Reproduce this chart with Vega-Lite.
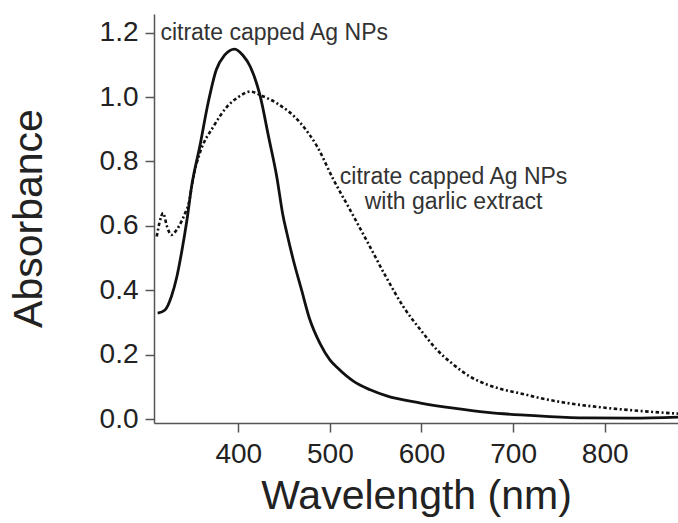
{
  "$schema": "https://vega.github.io/schema/vega-lite/v6.json",
  "autosize": {"type": "none"},
  "width": 524,
  "height": 409,
  "padding": {"left": 154, "top": 14, "right": 0, "bottom": 100},
  "background": "white",
  "config": {"view": {"stroke": null}, "font": "Liberation Sans"},
  "datasets": {
    "spectra": [
      {"series": "citrate", "wavelength": 312, "absorbance": 0.329},
      {"series": "citrate", "wavelength": 320, "absorbance": 0.339},
      {"series": "citrate", "wavelength": 327, "absorbance": 0.381},
      {"series": "citrate", "wavelength": 333, "absorbance": 0.443},
      {"series": "citrate", "wavelength": 338, "absorbance": 0.516},
      {"series": "citrate", "wavelength": 344, "absorbance": 0.619},
      {"series": "citrate", "wavelength": 349, "absorbance": 0.722},
      {"series": "citrate", "wavelength": 358, "absorbance": 0.847},
      {"series": "citrate", "wavelength": 367, "absorbance": 0.981},
      {"series": "citrate", "wavelength": 376, "absorbance": 1.085},
      {"series": "citrate", "wavelength": 385, "absorbance": 1.13},
      {"series": "citrate", "wavelength": 396, "absorbance": 1.149},
      {"series": "citrate", "wavelength": 405, "absorbance": 1.13},
      {"series": "citrate", "wavelength": 413, "absorbance": 1.095},
      {"series": "citrate", "wavelength": 424, "absorbance": 1.002},
      {"series": "citrate", "wavelength": 433, "absorbance": 0.878},
      {"series": "citrate", "wavelength": 442, "absorbance": 0.753},
      {"series": "citrate", "wavelength": 449, "absorbance": 0.629},
      {"series": "citrate", "wavelength": 453, "absorbance": 0.578},
      {"series": "citrate", "wavelength": 460, "absorbance": 0.495},
      {"series": "citrate", "wavelength": 469, "absorbance": 0.402},
      {"series": "citrate", "wavelength": 478, "absorbance": 0.31},
      {"series": "citrate", "wavelength": 489, "absorbance": 0.236},
      {"series": "citrate", "wavelength": 500, "absorbance": 0.184},
      {"series": "citrate", "wavelength": 508, "absorbance": 0.16},
      {"series": "citrate", "wavelength": 526, "absorbance": 0.117},
      {"series": "citrate", "wavelength": 544, "absorbance": 0.091},
      {"series": "citrate", "wavelength": 562, "absorbance": 0.072},
      {"series": "citrate", "wavelength": 599, "absorbance": 0.05},
      {"series": "citrate", "wavelength": 635, "absorbance": 0.034},
      {"series": "citrate", "wavelength": 672, "absorbance": 0.021},
      {"series": "citrate", "wavelength": 708, "absorbance": 0.013},
      {"series": "citrate", "wavelength": 740, "absorbance": 0.008},
      {"series": "citrate", "wavelength": 780, "absorbance": 0.004},
      {"series": "citrate", "wavelength": 830, "absorbance": 0.003},
      {"series": "citrate", "wavelength": 880, "absorbance": 0.006},
      {"series": "garlic", "wavelength": 311, "absorbance": 0.567},
      {"series": "garlic", "wavelength": 314, "absorbance": 0.61},
      {"series": "garlic", "wavelength": 318, "absorbance": 0.64},
      {"series": "garlic", "wavelength": 322, "absorbance": 0.6},
      {"series": "garlic", "wavelength": 327, "absorbance": 0.572},
      {"series": "garlic", "wavelength": 332, "absorbance": 0.585},
      {"series": "garlic", "wavelength": 336, "absorbance": 0.603},
      {"series": "garlic", "wavelength": 342, "absorbance": 0.64},
      {"series": "garlic", "wavelength": 346, "absorbance": 0.671},
      {"series": "garlic", "wavelength": 351, "absorbance": 0.753},
      {"series": "garlic", "wavelength": 358, "absorbance": 0.826},
      {"series": "garlic", "wavelength": 373, "absorbance": 0.909},
      {"series": "garlic", "wavelength": 388, "absorbance": 0.971},
      {"series": "garlic", "wavelength": 400, "absorbance": 1.0},
      {"series": "garlic", "wavelength": 413, "absorbance": 1.017},
      {"series": "garlic", "wavelength": 425, "absorbance": 1.005},
      {"series": "garlic", "wavelength": 442, "absorbance": 0.981},
      {"series": "garlic", "wavelength": 468, "absorbance": 0.919},
      {"series": "garlic", "wavelength": 486, "absorbance": 0.847},
      {"series": "garlic", "wavelength": 504, "absorbance": 0.743},
      {"series": "garlic", "wavelength": 522, "absorbance": 0.65},
      {"series": "garlic", "wavelength": 541, "absorbance": 0.55},
      {"series": "garlic", "wavelength": 561, "absorbance": 0.443},
      {"series": "garlic", "wavelength": 580, "absorbance": 0.35},
      {"series": "garlic", "wavelength": 599, "absorbance": 0.277},
      {"series": "garlic", "wavelength": 617, "absorbance": 0.215},
      {"series": "garlic", "wavelength": 635, "absorbance": 0.169},
      {"series": "garlic", "wavelength": 653, "absorbance": 0.132},
      {"series": "garlic", "wavelength": 672, "absorbance": 0.107},
      {"series": "garlic", "wavelength": 690, "absorbance": 0.091},
      {"series": "garlic", "wavelength": 708, "absorbance": 0.08},
      {"series": "garlic", "wavelength": 730, "absorbance": 0.065},
      {"series": "garlic", "wavelength": 759, "absorbance": 0.05},
      {"series": "garlic", "wavelength": 795, "absorbance": 0.037},
      {"series": "garlic", "wavelength": 832, "absorbance": 0.027},
      {"series": "garlic", "wavelength": 880, "absorbance": 0.017}
    ],
    "labels": [
      {"wavelength": 315, "absorbance": 1.2, "text": "citrate capped Ag NPs", "align": "left"},
      {"wavelength": 635, "absorbance": 0.752, "text": "citrate capped Ag NPs", "align": "center"},
      {"wavelength": 635, "absorbance": 0.675, "text": "with garlic extract", "align": "center"}
    ]
  },
  "encoding": {
    "x": {
      "field": "wavelength", "type": "quantitative",
      "scale": {"domain": [308, 880], "nice": false, "zero": false},
      "axis": {
        "title": "Wavelength (nm)", "values": [400, 500, 600, 700, 800],
        "grid": false, "domainColor": "#555", "domainWidth": 1.5,
        "tickColor": "#555", "tickWidth": 1.5, "tickSize": 9,
        "labelFontSize": 28, "labelColor": "#222", "labelPadding": 8,
        "titleFontSize": 41, "titleFontWeight": "normal", "titleColor": "#222",
        "titleX": 262, "titleY": 85, "titleBaseline": "alphabetic", "titleAlign": "center"
      }
    },
    "y": {
      "field": "absorbance", "type": "quantitative",
      "scale": {"domain": [-0.012, 1.258], "nice": false, "zero": false},
      "axis": {
        "title": "Absorbance", "values": [0, 0.2, 0.4, 0.6, 0.8, 1.0, 1.2], "format": ".1f",
        "grid": false, "domainColor": "#555", "domainWidth": 1.5,
        "tickColor": "#555", "tickWidth": 1.5, "tickSize": 9,
        "labelFontSize": 28, "labelColor": "#222", "labelPadding": 7,
        "titleFontSize": 41, "titleFontWeight": "normal", "titleColor": "#222",
        "titleX": -125, "titleY": 204, "titleAngle": -90, "titleBaseline": "middle", "titleAlign": "center"
      }
    }
  },
  "layer": [
    {
      "data": {"name": "spectra"},
      "transform": [{"filter": "datum.series === 'garlic'"}],
      "mark": {"type": "line", "color": "#111", "strokeWidth": 2.6, "strokeDash": [3.5, 2.5, 2, 2.5], "interpolate": "monotone"}
    },
    {
      "data": {"name": "spectra"},
      "transform": [{"filter": "datum.series === 'citrate'"}],
      "mark": {"type": "line", "color": "#111", "strokeWidth": 2.8, "interpolate": "monotone"}
    },
    {
      "data": {"name": "labels"},
      "transform": [{"filter": "datum.align === 'left'"}],
      "mark": {"type": "text", "fontSize": 23, "color": "#333", "baseline": "middle", "align": "left"},
      "encoding": {"text": {"field": "text"}}
    },
    {
      "data": {"name": "labels"},
      "transform": [{"filter": "datum.align === 'center'"}],
      "mark": {"type": "text", "fontSize": 23, "color": "#333", "baseline": "middle", "align": "center"},
      "encoding": {"text": {"field": "text"}}
    }
  ]
}
